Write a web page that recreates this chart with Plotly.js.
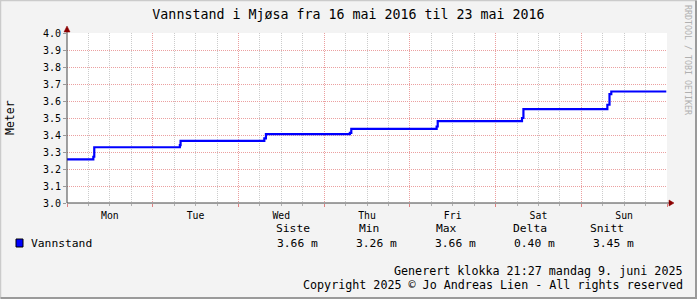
<!DOCTYPE html>
<html>
<head>
<meta charset="utf-8">
<script src="https://cdn.plot.ly/plotly-3.0.1.min.js"></script>
<style>html,body{margin:0;padding:0;background:#f3f3f3;}#chart{width:697px;height:299px;}</style>
</head>
<body>
<div id="chart"></div>
<script>
// ---- data ----
const times = [
  "2016-05-16 00:00", "2016-05-16 07:22", "2016-05-16 07:38",
  "2016-05-17 07:36", "2016-05-17 07:48",
  "2016-05-18 07:15", "2016-05-18 07:42",
  "2016-05-19 07:12", "2016-05-19 07:36",
  "2016-05-20 07:30", "2016-05-20 07:48",
  "2016-05-21 07:24", "2016-05-21 07:48",
  "2016-05-22 07:18", "2016-05-22 07:54", "2016-05-22 08:24",
  "2016-05-22 23:48"
];
const levels = [
  3.257, 3.272, 3.328,
  3.340, 3.366,
  3.380, 3.405,
  3.412, 3.436,
  3.450, 3.482,
  3.500, 3.552,
  3.578, 3.640, 3.656,
  3.656
];
const seriesName = "Vannstand";
const statHeaders = ["Siste", "Min", "Max", "Delta", "Snitt"];
const statValues = ["3.66 m", "3.26 m", "3.66 m", "0.40 m", "3.45 m"];
const titleText = "Vannstand i Mjøsa fra 16 mai 2016 til 23 mai 2016";
const yTitle = "Meter";
const footer1 = "Generert klokka 21:27 mandag 9. juni 2025";
const footer2 = "Copyright 2025 © Jo Andreas Lien - All rights reserved";
const sideText = "RRDTOOL / TOBI OETIKER";

// ---- layout helpers (pixel -> paper) ----
const L = 67, T = 33, W = 600, H = 170;
const px = x => (x - L) / W;
const py = y => (T + H - y) / H;
const FONT = "DejaVu Sans Mono";

const headerX = [276, 359, 436, 513, 590];
const valueX = [277, 356, 435, 514, 593];

const annotations = [];
annotations.push({text: yTitle, x: px(10), y: py(118), xref: 'paper', yref: 'paper', textangle: -90,
  showarrow: false, xanchor: 'center', yanchor: 'middle', font: {family: FONT, size: 11.5, color: '#000'}});
annotations.push({text: sideText, x: px(688), y: py(5), xref: 'paper', yref: 'paper', textangle: 90,
  showarrow: false, xanchor: 'center', yanchor: 'top', font: {family: FONT, size: 8.3, color: '#b0b0b0'}});
annotations.push({text: seriesName, x: px(31), y: py(243), xref: 'paper', yref: 'paper',
  showarrow: false, xanchor: 'left', yanchor: 'middle', font: {family: FONT, size: 11.3, color: '#000'}});
statHeaders.forEach((h, i) => annotations.push({text: h, x: px(headerX[i]), y: py(229), xref: 'paper', yref: 'paper',
  showarrow: false, xanchor: 'left', yanchor: 'middle', font: {family: FONT, size: 11.3, color: '#000'}}));
statValues.forEach((v, i) => annotations.push({text: v, x: px(valueX[i]), y: py(243), xref: 'paper', yref: 'paper',
  showarrow: false, xanchor: 'left', yanchor: 'middle', font: {family: FONT, size: 11.3, color: '#000'}}));
annotations.push({text: footer1, x: px(683), y: py(271), xref: 'paper', yref: 'paper',
  showarrow: false, xanchor: 'right', yanchor: 'middle', font: {family: FONT, size: 11.7, color: '#000'}});
annotations.push({text: footer2, x: px(683), y: py(285), xref: 'paper', yref: 'paper',
  showarrow: false, xanchor: 'right', yanchor: 'middle', font: {family: FONT, size: 11.7, color: '#000'}});
annotations.forEach(a => { a.borderpad = 0; a.borderwidth = 0; });

const shapes = [
  // frame: light top/left, dark bottom/right
  {type: 'path', xref: 'paper', yref: 'paper', layer: 'above',
   path: `M${px(0.5)},${py(298.5)} L${px(0.5)},${py(0.5)} L${px(696.5)},${py(0.5)}`,
   line: {color: '#cbcbcb', width: 1.5}},
  {type: 'path', xref: 'paper', yref: 'paper', layer: 'above',
   path: `M${px(696)},${py(0.5)} L${px(696)},${py(298)} L${px(0.5)},${py(298)}`,
   line: {color: '#9a9a9a', width: 2}},
  // axis lines extended with arrows
  {type: 'line', xref: 'paper', yref: 'paper', x0: px(67), x1: px(670), y0: py(203), y1: py(203),
   line: {color: '#444', width: 1}},
  {type: 'line', xref: 'paper', yref: 'paper', x0: px(67), x1: px(67), y0: py(203), y1: py(30),
   line: {color: '#444', width: 1}},
  {type: 'path', xref: 'paper', yref: 'paper', fillcolor: '#8b0000', line: {color: '#8b0000', width: 0.5},
   path: `M${px(669)},${py(200)} L${px(674)},${py(203)} L${px(669)},${py(206)} Z`},
  {type: 'path', xref: 'paper', yref: 'paper', fillcolor: '#8b0000', line: {color: '#8b0000', width: 0.5},
   path: `M${px(64)},${py(32)} L${px(67)},${py(26)} L${px(70)},${py(32)} Z`},
  // legend swatch
  {type: 'rect', xref: 'paper', yref: 'paper', x0: px(16), x1: px(23), y0: py(239), y1: py(247),
   fillcolor: '#0000ff', line: {color: '#000', width: 1}}
];

const trace = {
  x: times, y: levels, type: 'scatter', mode: 'lines', name: seriesName,
  line: {shape: 'hv', color: '#0000ff', width: 2.2}, hoverinfo: 'skip', showlegend: false
};

const layout = {
  width: 697, height: 299,
  margin: {l: L, r: 697 - L - W, t: T, b: 299 - T - H, pad: 0},
  paper_bgcolor: '#f3f3f3', plot_bgcolor: '#ffffff',
  showlegend: false,
  title: {text: titleText, x: 0.5, xref: 'container', xanchor: 'center', y: 1 - 14 / 299, yref: 'container',
          yanchor: 'middle', font: {family: FONT, size: 13.3, color: '#000'}},
  xaxis: {
    type: 'date', range: ['2016-05-16 00:00', '2016-05-23 00:00'],
    tick0: '2016-05-16', dtick: 86400000, tickformat: '%a', ticklabelmode: 'period',
    showgrid: true, gridcolor: '#eba0a0', griddash: '1px,1px', gridwidth: 1,
    ticks: 'outside', ticklen: 3, tickcolor: '#e08080', showline: false, zeroline: false,
    tickfont: {family: FONT, size: 9.8, color: '#000'},
    minor: {dtick: 6 * 3600000, showgrid: true, gridcolor: '#cccccc', griddash: '1px,1px', gridwidth: 1,
            ticks: 'outside', ticklen: 2, tickcolor: '#b0b0b0'},
    fixedrange: true
  },
  yaxis: {
    range: [3.0, 4.0], dtick: 0.1, tick0: 3.0, tickformat: '.1f',
    showgrid: true, gridcolor: '#eba0a0', griddash: '1px,1px', gridwidth: 1,
    ticks: 'outside', ticklen: 3, tickcolor: '#999', showline: false, zeroline: false,
    tickfont: {family: FONT, size: 10, color: '#000'},
    fixedrange: true
  },
  annotations: annotations,
  shapes: shapes
};

Plotly.newPlot('chart', [trace], layout, {displayModeBar: false, staticPlot: true});
</script>
</body>
</html>
